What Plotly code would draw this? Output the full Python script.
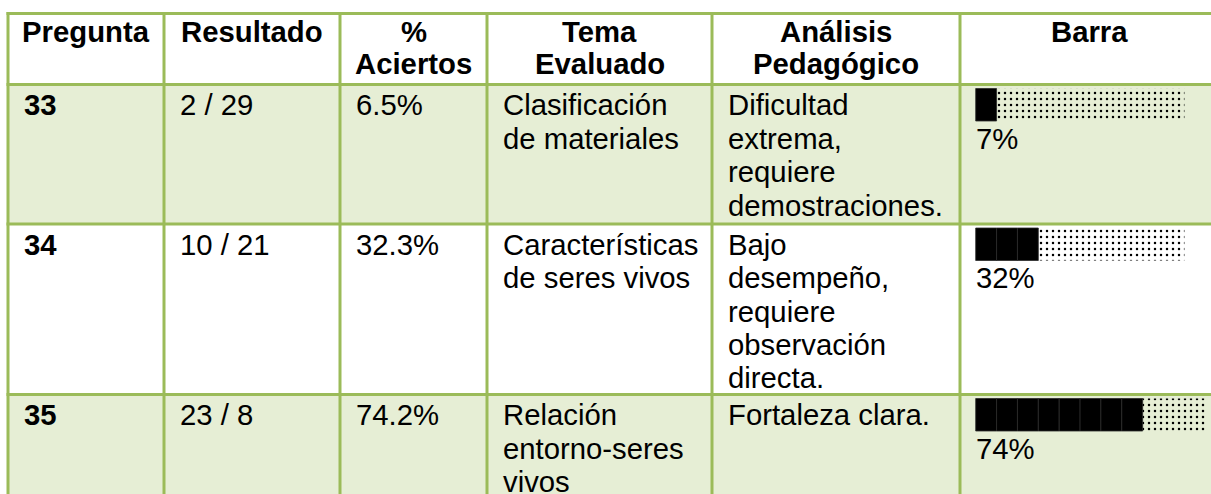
import plotly.graph_objects as go

# ---------------- data ----------------
encabezados = [["Pregunta"], ["Resultado"], ["%", "Aciertos"], ["Tema", "Evaluado"],
               ["Análisis", "Pedagógico"], ["Barra"]]
preguntas = ["33", "34", "35"]
resultados = ["2 / 29", "10 / 21", "23 / 8"]
aciertos = ["6.5%", "32.3%", "74.2%"]
temas = [["Clasificación", "de materiales"],
         ["Características", "de seres vivos"],
         ["Relación", "entorno-seres", "vivos"]]
analisis = [["Dificultad", "extrema,", "requiere", "demostraciones."],
            ["Bajo", "desempeño,", "requiere", "observación", "directa."],
            ["Fortaleza clara."]]
barra_etiquetas = ["7%", "32%", "74%"]
bloques_llenos = [1, 3, 8]
bloques_vacios = [9, 7, 3]

# ---------------- layout constants ----------------
W, H = 1211, 494
col_edges = [8, 164, 340, 487, 712, 960, 1219]
row_edges = [13.5, 84.5, 224, 394.5, 600]
row_fills = ["#FFFFFF", "#E6EED5", "#FFFFFF", "#E6EED5"]
border_color = "#9BBB59"
border_w = 3
FONT = "Liberation Sans, Arial, sans-serif"
FS = 29.3
pad_x = 13.5
hdr_base = 41.7
hdr_step = 32.4
body_base_off = 30.5
body_step = 33.4
block_w = 20.87
bar_top_off = 26.5
bar_bot_off = 6.0
text_mid = 0.3465 * FS  # baseline -> middle of text box

fig = go.Figure()
shapes = []
annotations = []

# cell fills
for r in range(len(row_edges) - 1):
    shapes.append(dict(type="rect", xref="x", yref="y", layer="below",
                       x0=col_edges[0], x1=col_edges[-1],
                       y0=row_edges[r], y1=row_edges[r + 1],
                       fillcolor=row_fills[r], line=dict(width=0)))
# borders
for xe in col_edges:
    shapes.append(dict(type="line", xref="x", yref="y", layer="above",
                       x0=xe, x1=xe, y0=row_edges[0] - border_w / 2, y1=row_edges[-1],
                       line=dict(color=border_color, width=border_w)))
for ye in row_edges[:-1]:
    shapes.append(dict(type="line", xref="x", yref="y", layer="above",
                       x0=col_edges[0] - border_w / 2, x1=col_edges[-1], y0=ye, y1=ye,
                       line=dict(color=border_color, width=border_w)))


def add_text(txt, x, baseline, bold=False, anchor="left"):
    annotations.append(dict(
        text=f"<b>{txt}</b>" if bold else txt, xref="x", yref="y",
        x=x, y=baseline - text_mid, xanchor=anchor, yanchor="middle",
        showarrow=False, font=dict(family=FONT, size=FS, color="#000000")))


# header
for c, lines in enumerate(encabezados):
    cx = (col_edges[c] + col_edges[c + 1]) / 2
    for i, ln in enumerate(lines):
        add_text(ln, cx, hdr_base + i * hdr_step, bold=True, anchor="center")

# body
bar_y, bar_len, bar_base, bar_h = [], [], [], []
dot_y, dot_len, dot_base, dot_h = [], [], [], []
for r in range(len(preguntas)):
    top = row_edges[r + 1]
    b0 = top + body_base_off
    cols = [[preguntas[r]], [resultados[r]], [aciertos[r]], temas[r], analisis[r]]
    for c, lines in enumerate(cols):
        for i, ln in enumerate(lines):
            add_text(ln, col_edges[c] + pad_x, b0 + i * body_step, bold=(c == 0))
    # bar in the "Barra" column
    x0 = col_edges[5] + pad_x + 2.2
    yc = b0 + (bar_bot_off - bar_top_off) / 2
    hh = bar_top_off + bar_bot_off
    for k in range(bloques_llenos[r]):
        bar_y.append(yc); bar_len.append(block_w); bar_base.append(x0 + k * block_w); bar_h.append(hh)
    dot_y.append(yc); dot_len.append(bloques_vacios[r] * block_w)
    dot_base.append(x0 + bloques_llenos[r] * block_w); dot_h.append(hh)
    add_text(barra_etiquetas[r], col_edges[5] + pad_x, b0 + body_step)

fig.add_trace(go.Bar(orientation="h", y=bar_y, x=bar_len, base=bar_base, width=bar_h,
                     marker=dict(color="#000000", line=dict(color="#2B2B2B", width=0.8)),
                     hoverinfo="skip", showlegend=False))
fig.add_trace(go.Bar(orientation="h", y=dot_y, x=dot_len, base=dot_base, width=dot_h,
                     marker=dict(color="rgba(0,0,0,0)", line=dict(width=0),
                                 pattern=dict(shape=".", fgcolor="#000000", bgcolor="rgba(0,0,0,0)",
                                              size=6, solidity=0.14, fillmode="replace")),
                     hoverinfo="skip", showlegend=False))

fig.update_layout(
    width=W, height=H, margin=dict(l=0, r=0, t=0, b=0),
    paper_bgcolor="#FFFFFF", plot_bgcolor="#FFFFFF",
    barmode="overlay", shapes=shapes, annotations=annotations,
    xaxis=dict(range=[0, W], visible=False, fixedrange=True),
    yaxis=dict(range=[H, 0], visible=False, fixedrange=True),
)
fig.write_html("out.html", config={"displayModeBar": False},
               post_script="document.body.style.margin='0';document.body.style.overflow='hidden';")
